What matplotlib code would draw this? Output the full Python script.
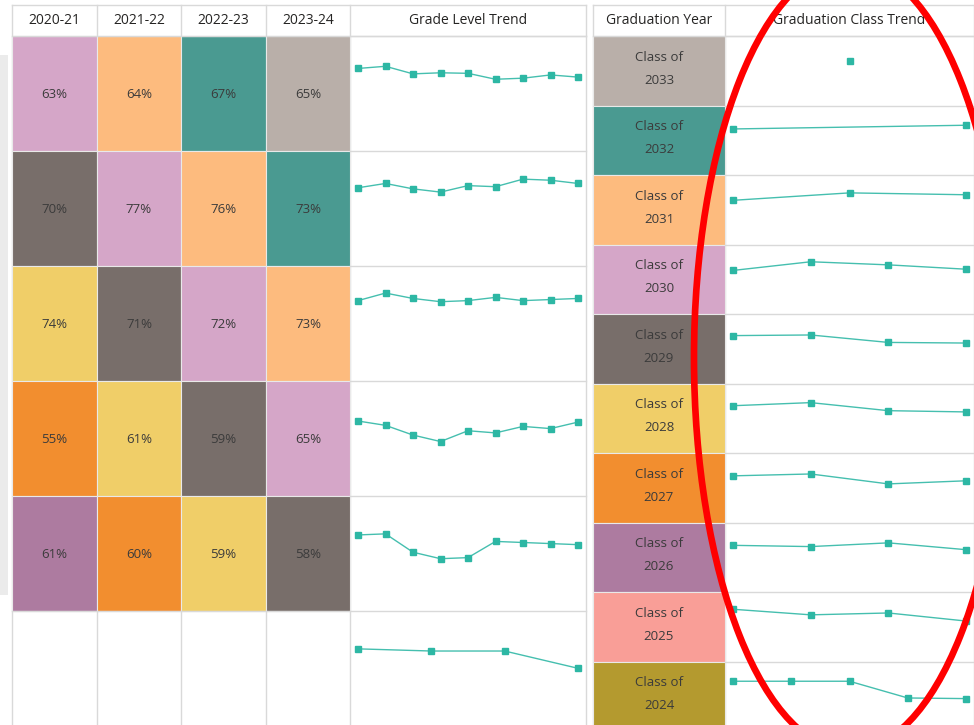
import matplotlib
matplotlib.use("Agg")
import matplotlib.pyplot as plt
from matplotlib.patches import Rectangle, Ellipse

plt.rcParams['font.family'] = ['Open Sans', 'DejaVu Sans']

# ---------------- data ----------------
years = ['2020-21', '2021-22', '2022-23', '2023-24']
grade_values = [
    [63, 64, 67, 65],
    [70, 77, 76, 73],
    [74, 71, 72, 73],
    [55, 61, 59, 65],
    [61, 60, 59, 58],
]
cell_class = [
    [2030, 2031, 2032, 2033],
    [2029, 2030, 2031, 2032],
    [2028, 2029, 2030, 2031],
    [2027, 2028, 2029, 2030],
    [2026, 2027, 2028, 2029],
]
grade_trend = [
    [73, 75, 68, 69, 68.5, 63, 64, 67, 65],
    [69, 73, 68, 65, 71, 70, 77, 76, 73],
    [71, 78, 73, 70, 71, 74, 71, 72, 73],
    [66, 62, 53, 47, 57, 55, 61, 59, 65],
    [67, 68, 51, 45, 46, 61, 60, 59, 58],
    [68, 66, 66, 50],
]
grad_years = [2033, 2032, 2031, 2030, 2029, 2028, 2027, 2026, 2025, 2024]
class_trend = [
    [65],
    [67, 73],
    [64, 76, 73],
    [63, 77, 72, 65],
    [70, 71, 59, 58],
    [69, 74, 61, 59],
    [68, 71, 55, 60],
    [68, 66, 72, 61],
    [77, 68, 71, 58],
    [73, 73, 73, 46, 45],
]
class_colors = {
    2033: '#B9AFA9', 2032: '#4A9A91', 2031: '#FDBB7E', 2030: '#D5A6C8',
    2029: '#786E6A', 2028: '#F0CE68', 2027: '#F28E2F', 2026: '#AD7BA0',
    2025: '#F99E97', 2024: '#B49A2F',
}

# ---------------- layout (pixels) ----------------
W, H = 974, 725
LINE = '#d9d9d9'
TXT = '#3b3b3b'
SPARK = '#2DB7A4'

fig = plt.figure(figsize=(W / 100, H / 100), dpi=100)
ax = fig.add_axes([0, 0, 1, 1])
ax.set_xlim(0, W)
ax.set_ylim(H, 0)
ax.axis('off')

# side grey panel
ax.add_patch(Rectangle((0, 55), 8, 540, color='#ebebeb', lw=0))

L_cols = [12, 97, 181, 266, 350, 586]
L_head = (5, 36)
L_rowh = 115
R_cols = [593, 725, 974]
R_rowh = 69.5

def spark(x0, x1, ytop, ybot, vals):
    sax = fig.add_axes([x0 / W, 1 - ybot / H, (x1 - x0) / W, (ybot - ytop) / H])
    sax.axis('off')
    sax.patch.set_alpha(0)
    n = len(vals)
    xs = [i / (n - 1) for i in range(n)] if n > 1 else [0.5]
    sax.plot(xs, vals, color='#45BFAF', lw=1.0, marker='s', ms=4.6,
             mfc=SPARK, mec=SPARK, clip_on=False)
    sax.set_xlim(0, 1)
    sax.set_ylim(0, 100)

# ---- left table ----
# header
for i, lab in enumerate(years + ['Grade Level Trend']):
    x0, x1 = L_cols[i], L_cols[i + 1]
    ax.text((x0 + x1) / 2, 20.5, lab, ha='center', va='center', fontsize=10, color='#252423')
# rows
n_rows_left = len(grade_trend)
for r in range(n_rows_left):
    y0 = L_head[1] + r * L_rowh
    if r < len(grade_values):
        for c in range(4):
            col = class_colors[cell_class[r][c]]
            ax.add_patch(Rectangle((L_cols[c], y0), L_cols[c + 1] - L_cols[c], L_rowh,
                                   facecolor=col, edgecolor='#e9e9e9', lw=0.8))
            ax.text((L_cols[c] + L_cols[c + 1]) / 2, y0 + L_rowh / 2 + 1,
                    f'{grade_values[r][c]}%', ha='center', va='center',
                    fontsize=9.5, color=TXT)
    ax.plot([L_cols[4], L_cols[5]], [y0, y0], color=LINE, lw=1)
    spark(358, 578, y0 + 3.3, y0 + 111.3, grade_trend[r])
# grid lines of left table
ax.plot([L_cols[0], L_cols[-1]], [L_head[0], L_head[0]], color=LINE, lw=1)
ax.plot([L_cols[0], L_cols[-1]], [L_head[1], L_head[1]], color=LINE, lw=1)
for x in L_cols:
    ax.plot([x, x], [L_head[0], H], color=LINE, lw=1, zorder=0.5)
for c in range(4):
    ax.plot([L_cols[c], L_cols[c + 1]], [L_head[1] + 5 * L_rowh] * 2, color=LINE, lw=1)

# ---- right table ----
ax.text((R_cols[0] + R_cols[1]) / 2, 20.5, 'Graduation Year', ha='center', va='center',
        fontsize=10, color='#252423')
ax.text((R_cols[1] + R_cols[2]) / 2, 20.5, 'Graduation Class Trend', ha='center', va='center',
        fontsize=10, color='#252423')
ax.plot([R_cols[0], R_cols[-1]], [L_head[0], L_head[0]], color=LINE, lw=1)
ax.plot([R_cols[0], R_cols[-1]], [L_head[1], L_head[1]], color=LINE, lw=1)
for x in R_cols:
    ax.plot([x, x], [L_head[0], H], color=LINE, lw=1, zorder=0.5)
for r, gy in enumerate(grad_years):
    y0 = L_head[1] + r * R_rowh
    ax.add_patch(Rectangle((R_cols[0], y0), R_cols[1] - R_cols[0], R_rowh,
                           facecolor=class_colors[gy], edgecolor='#e9e9e9', lw=0.8))
    cx = (R_cols[0] + R_cols[1]) / 2
    cy = y0 + R_rowh / 2 - 2
    ax.text(cx, cy - 11.5, 'Class of', ha='center', va='center', fontsize=9.5, color=TXT)
    ax.text(cx, cy + 11.5, str(gy), ha='center', va='center', fontsize=9.5, color=TXT)
    ax.plot([R_cols[1], R_cols[2]], [y0, y0], color=LINE, lw=1)
    spark(733, 966, y0 + 3, y0 + 65, class_trend[r])

# ---- annotation overlay ----
ov = fig.add_axes([0, 0, 1, 1])
ov.set_xlim(0, W)
ov.set_ylim(H, 0)
ov.axis('off')
ov.patch.set_alpha(0)
ov.add_patch(Ellipse((850, 358), 312, 786, fill=False, edgecolor='#FF0000', lw=4.8))

fig.savefig('out.png', dpi=100, facecolor='white')
